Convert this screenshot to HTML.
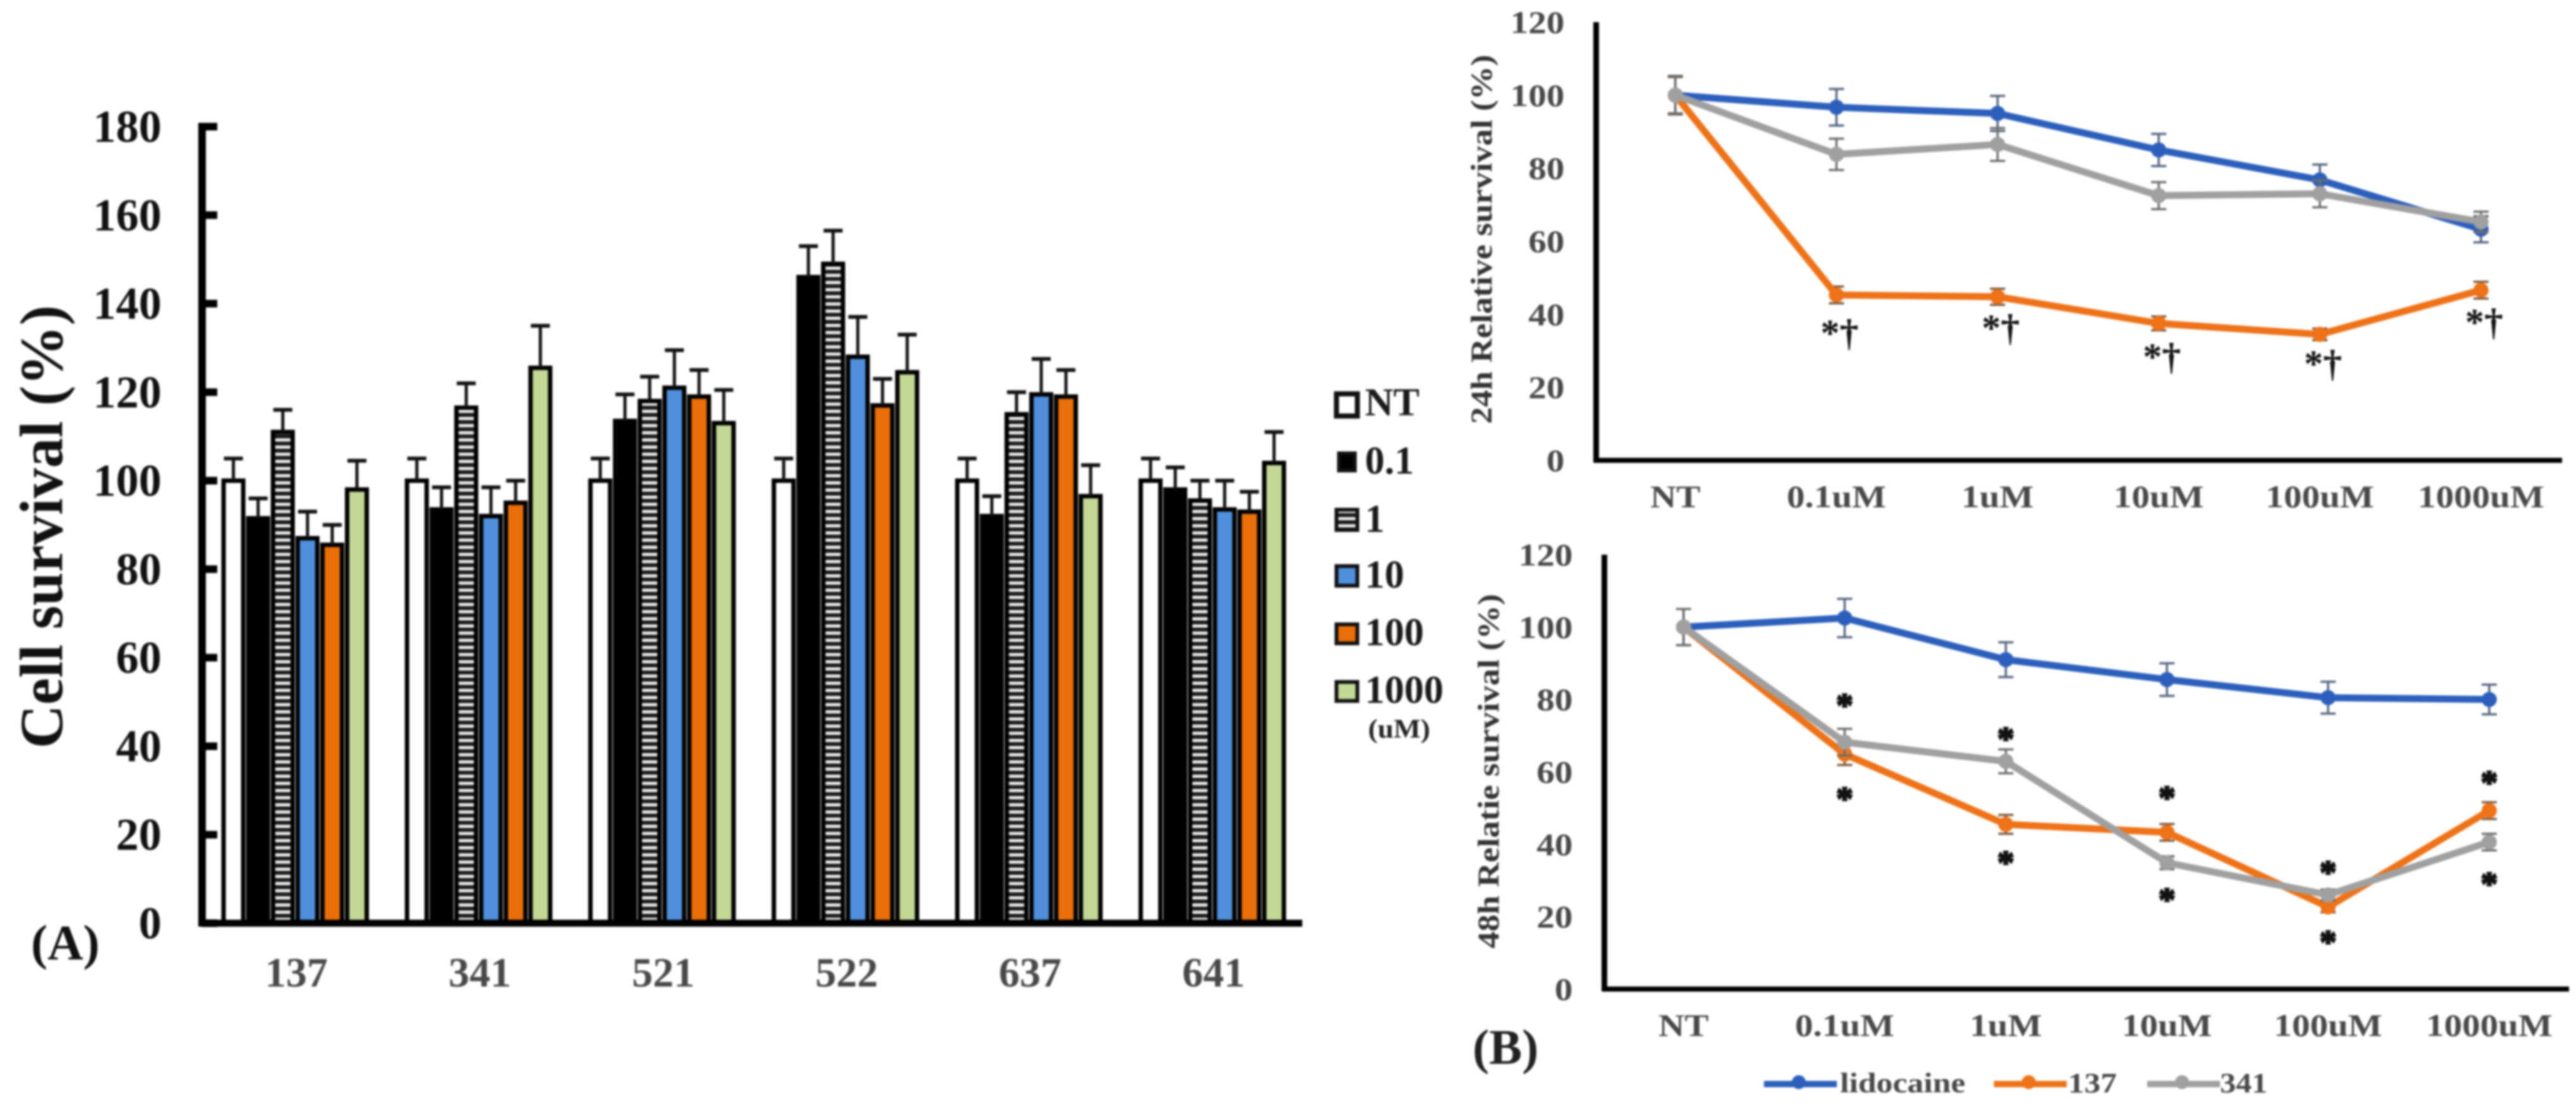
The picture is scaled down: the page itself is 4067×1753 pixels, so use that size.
<!DOCTYPE html>
<html>
<head>
<meta charset="utf-8">
<title>Cell survival charts</title>
<style>
html,body{margin:0;padding:0;background:#fff;width:4067px;height:1753px;overflow:hidden}
svg{display:block;filter:blur(1.6px)}
text{font-family:"Liberation Serif",serif}
</style>
</head>
<body>
<svg id="fig" xmlns="http://www.w3.org/2000/svg" width="4067" height="1753" viewBox="0 0 4067 1753">
<defs>
<pattern id="hatch" width="10" height="11.3" patternUnits="userSpaceOnUse">
<rect width="10" height="11.3" fill="#1a1a1a"/>
<rect y="3" width="10" height="5" fill="#eee"/>
</pattern>
</defs>
<rect width="4067" height="1753" fill="#fff"/>
<text x="0" y="0" transform="translate(98,832) rotate(-90)" text-anchor="middle" font-size="96" font-weight="bold" fill="#111" textLength="700" lengthAdjust="spacingAndGlyphs">Cell survival (%)</text>
<text x="49" y="1515" font-size="78" font-weight="bold" fill="#111">(A)</text>
<text x="2160" y="1165" font-size="42" font-weight="bold" fill="#222" textLength="98" lengthAdjust="spacingAndGlyphs">(uM)</text>
<text x="0" y="0" transform="translate(2355,378) rotate(-90)" text-anchor="middle" font-size="48" font-weight="bold" fill="#333" textLength="583" lengthAdjust="spacingAndGlyphs">24h Relative survival (%)</text>
<text x="0" y="0" transform="translate(2366,1218) rotate(-90)" text-anchor="middle" font-size="48" font-weight="bold" fill="#333" textLength="560" lengthAdjust="spacingAndGlyphs">48h Relatie survival (%)</text>
<text x="2325" y="1680" font-size="78" font-weight="bold" fill="#222">(B)</text>
<g id="barChart"></g>
<g id="topChart"></g>
<g id="bottomChart"></g>
<g id="lineLegend"></g>
</svg>
<script>
// ---- Panel A data ----
const barGroups = ['137', '341', '521', '522', '637', '641'];
const barSeriesNames = ['NT', '0.1', '1', '10', '100', '1000'];
const barTicks = [0, 20, 40, 60, 80, 100, 120, 140, 160, 180];
const barNT = [100, 100, 100, 100, 100, 100];
const bar01 = [91.5, 93.5, 113.5, 146, 92, 98];
const bar1 = [111, 116.5, 118, 149, 115, 95.5];
const bar10 = [87, 92, 121, 128, 119.5, 93.5];
const bar100 = [85.5, 95, 119, 117, 119, 93];
const bar1000 = [98, 125.5, 113, 124.5, 96.5, 104];
const errNT = [5, 5, 5, 5, 5, 5];
const err01 = [4.5, 5, 6, 7, 4.5, 5];
const err1 = [5, 5.5, 5.5, 7.5, 5, 4.5];
const err10 = [6, 6.5, 8.5, 9, 8, 6.5];
const err100 = [4.5, 5, 6, 6, 6, 4.5];
const err1000 = [6.5, 9.5, 7.5, 8.5, 7, 7];

// ---- Panel B data ----
const lineCategories = ['NT', '0.1uM', '1uM', '10uM', '100uM', '1000uM'];
const lineTicks = [0, 20, 40, 60, 80, 100, 120];
const top24Lidocaine = [100, 96.7, 95, 85, 76.8, 63.3];
const top24Cell137 = [100, 45.3, 44.8, 37.5, 34.5, 46.6];
const top24Cell341 = [100, 83.8, 86.5, 72.5, 73, 65.3];
const top24ErrLidocaine = [5, 5, 4.8, 4.4, 4.2, 3.6];
const top24ErrCell137 = [5, 2.3, 2.2, 1.9, 1.6, 2.3];
const top24ErrCell341 = [5.3, 4.3, 4.5, 3.7, 3.7, 2.8];
const top24MarkerLevels = [31.4, 32.8, 24.9, 23, 34.3];
const top24MarkerText = ['*†', '*†', '*†', '*†', '*†'];

const bot48Lidocaine = [100, 102.5, 91, 85.5, 80.5, 80];
const bot48Cell137 = [100, 64.9, 45.5, 43.3, 22.7, 49.3];
const bot48Cell341 = [100, 68.2, 62.9, 34.9, 26, 40.6];
const bot48ErrLidocaine = [5, 5.3, 4.8, 4.5, 4.4, 4.1];
const bot48ErrCell137 = [5, 3, 2.6, 2.3, 1.5, 2.3];
const bot48ErrCell341 = [5, 3.7, 3.3, 1.8, 1.5, 2.3];
const bot48StarsUpper = [79.9, 70.7, 54.4, 33.8, 58.6];
const bot48StarsLower = [54.1, 36.5, 26.2, 14.5, 30.6];

const legendNames = ['lidocaine', '137', '341'];

const NS = 'http://www.w3.org/2000/svg';
function mk(tag, attrs, parent, txt) {
  const el = document.createElementNS(NS, tag);
  for (const k in attrs) el.setAttribute(k, attrs[k]);
  if (txt !== undefined) el.textContent = txt;
  parent.appendChild(el);
  return el;
}

// ---- Panel A ----
(function () {
  const g = document.getElementById('barChart');
  const y = v => 1458 - v * 1258 / 180;
  const groupX = i => 466 + i * 289.6;
  const barX = (i, s) => groupX(i) + (s - 2.5) * 39;
  const barW = 31;
  const fills = ['#ffffff', '#000000', 'url(#hatch)', '#4f8fdc', '#ea6f0a', '#c4d896'];
  const values = [barNT, bar01, bar1, bar10, bar100, bar1000];
  const errors = [errNT, err01, err1, err10, err100, err1000];

  barGroups.forEach((name, i) => {
    values.forEach((vals, s) => {
      const cx = barX(i, s);
      const top = y(vals[i]);
      const tip = y(vals[i] + errors[s][i]);
      const bar = mk('rect', {x: cx - barW / 2, y: top, width: barW, height: 1458 - top, fill: fills[s], stroke: '#000', 'stroke-width': 7}, g);
      
      
      const stem = mk('line', {x1: cx, x2: cx, y1: top, y2: tip, stroke: '#111', 'stroke-width': 5}, g);
      
      
      const cap = mk('line', {x1: cx - 15, x2: cx + 15, y1: tip, y2: tip, stroke: '#111', 'stroke-width': 6}, g);
      
      
    });
    const lab = mk('text', {x: groupX(i) + 2, y: 1558, 'text-anchor': 'middle', 'font-size': 66, 'font-weight': 'bold', fill: '#484848'}, g, name);
    
    
  });

  barTicks.forEach(v => {
    const t = mk('line', {x1: 319, x2: 343, y1: y(v), y2: y(v), stroke: '#000', 'stroke-width': 12}, g);
    
    
    const lab = mk('text', {x: 255, y: y(v) + 24, 'text-anchor': 'end', 'font-size': 72, 'font-weight': 'bold', fill: '#111'}, g, v);
    
    
  });
  const sp = mk('line', {x1: 319, x2: 319, y1: y(180) - 6, y2: 1463, stroke: '#000', 'stroke-width': 12}, g);
  
  
  const ax = mk('line', {x1: 314, x2: 2056, y1: 1458, y2: 1458, stroke: '#000', 'stroke-width': 11}, g);
  
  

  // legend
  const boxTop = [619, 713, 802, 891, 983, 1074];
  const boxH = [41, 33, 38, 37, 36, 36];
  const base = [656, 748, 840, 928, 1019, 1110];
  barSeriesNames.forEach((n, s) => {
    const inset = s === 1 ? 4 : 0;
    const box = mk('rect', {x: 2110 + inset, y: boxTop[s] + 3, width: 33 - 2 * inset, height: boxH[s] - 6, fill: fills[s], stroke: '#111', 'stroke-width': s === 0 ? 8 : 6}, g);
    
    
    const lab = mk('text', {x: 2155, y: base[s], 'font-size': 62, 'font-weight': 'bold', fill: '#1a1a1a'}, g, n);
    
    
  });
})();

// ---- Panel B ----
const lineColors = ['#2c5fbc', '#ee7218', '#a0a0a0'];
const errColors = ['#55657f', '#7a5a40', '#6e6e6e'];
function drawLine(cfg) {
  const g = cfg.g;
  const y = v => cfg.y0 - v * (cfg.y0 - cfg.y120) / 120;
  const x = i => cfg.x0 + i * cfg.dx;
  const order = [0, 1, 2];
  order.forEach(s => {
    const vals = cfg.series[s];
    const errs = cfg.errs[s];
    const pts = vals.map((v, i) => x(i) + ',' + y(v)).join(' ');
    vals.forEach((v, i) => {
      const cx = x(i);
      const e = errs[i];
      const eb = mk('path', {
        d: 'M' + (cx - 12) + ' ' + y(v + e) + 'H' + (cx + 12) + 'M' + cx + ' ' + y(v + e) + 'V' + y(v - e) + 'M' + (cx - 12) + ' ' + y(v - e) + 'H' + (cx + 12),
        fill: 'none', stroke: errColors[s], 'stroke-width': 3.5
      }, g);
      
      
    });
    const line = mk('polyline', {points: pts, fill: 'none', stroke: lineColors[s], 'stroke-width': 11, 'stroke-linejoin': 'round'}, g);
    
    
    vals.forEach((v, i) => {
      const c = mk('circle', {cx: x(i), cy: y(v), r: 12, fill: lineColors[s]}, g);
      
      
    });
  });
  lineTicks.forEach(v => {
    const lab = mk('text', {transform: 'translate(' + cfg.labelRight + ',' + (y(v) + 17) + ') scale(1.14,1)', 'text-anchor': 'end', 'font-size': 50, 'font-weight': 'bold', fill: '#484848'}, g, v);
    
    
  });
  lineCategories.forEach((c, i) => {
    const lab = mk('text', {transform: 'translate(' + x(i) + ',' + (cfg.y0 + 74) + ') scale(1.14,1)', 'text-anchor': 'middle', 'font-size': 50, 'font-weight': 'bold', fill: '#484848'}, g, c);
    
    
  });
  const sp = mk('line', {x1: cfg.spine, x2: cfg.spine, y1: cfg.y120, y2: cfg.y0 + 3, stroke: '#000', 'stroke-width': 9}, g);
  
  
  const ax = mk('line', {x1: cfg.spine - 4, x2: cfg.xEnd, y1: cfg.y0, y2: cfg.y0, stroke: '#000', 'stroke-width': 8}, g);
  
  
  return {x, y};
}

(function () {
  const g = document.getElementById('topChart');
  const s = drawLine({g, y0: 727, y120: 35, x0: 2645, dx: 254.4, spine: 2520, xEnd: 4045, labelRight: 2470,
    series: [top24Lidocaine, top24Cell137, top24Cell341],
    errs: [top24ErrLidocaine, top24ErrCell137, top24ErrCell341]});
  top24MarkerLevels.forEach((v, i) => {
    const t = mk('text', {x: s.x(i + 1) + 5, y: s.y(v), 'text-anchor': 'middle', 'font-size': 60, 'font-weight': 'bold', fill: '#111'}, g, top24MarkerText[i]);
    
    
  });
})();

(function () {
  const g = document.getElementById('bottomChart');
  const s = drawLine({g, y0: 1562, y120: 876, x0: 2658, dx: 254.4, spine: 2533, xEnd: 4056, labelRight: 2483,
    series: [bot48Lidocaine, bot48Cell137, bot48Cell341],
    errs: [bot48ErrLidocaine, bot48ErrCell137, bot48ErrCell341]});
  bot48StarsUpper.forEach((v, i) => {
    const t = mk('text', {x: s.x(i + 1), y: s.y(v) + 27, 'text-anchor': 'middle', 'font-size': 54, 'font-weight': 'bold', fill: '#111', stroke: '#111', 'stroke-width': 2.5}, g, '*');
    
    
  });
  bot48StarsLower.forEach((v, i) => {
    const t = mk('text', {x: s.x(i + 1), y: s.y(v) + 27, 'text-anchor': 'middle', 'font-size': 54, 'font-weight': 'bold', fill: '#111', stroke: '#111', 'stroke-width': 2.5}, g, '*');
    
    
  });
})();

(function () {
  const g = document.getElementById('lineLegend');
  const x1 = [2785, 3148, 3390];
  const textX = [2905, 3265, 3505];
  const widths = [198, 77, 75];
  legendNames.forEach((n, s) => {
    const l = mk('line', {x1: x1[s], x2: x1[s] + 115, y1: 1712, y2: 1712, stroke: lineColors[s], 'stroke-width': 10}, g);
    
    
    const c = mk('circle', {cx: x1[s] + 55, cy: 1709, r: 11, fill: lineColors[s]}, g);
    
    
    const t = mk('text', {x: textX[s], y: 1725, 'font-size': 44, 'font-weight': 'bold', fill: '#484848', textLength: widths[s], lengthAdjust: 'spacingAndGlyphs'}, g, n);
    
    
  });
})();
</script>
</body>
</html>
